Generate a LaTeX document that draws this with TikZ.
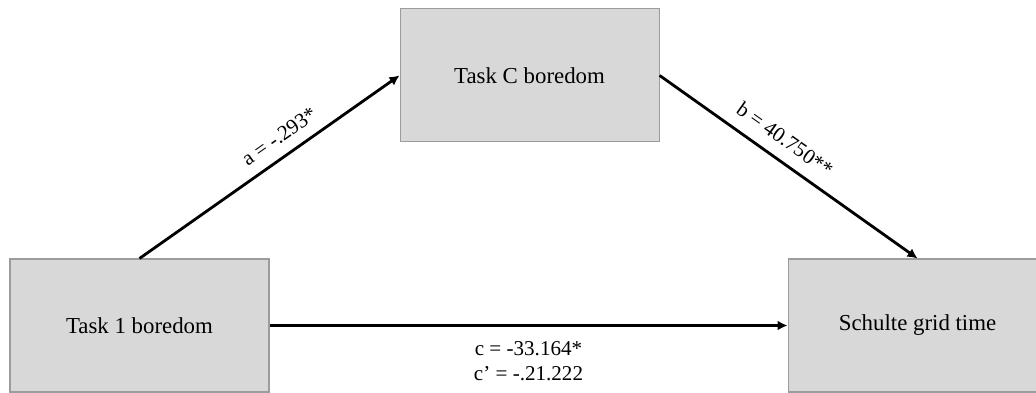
\documentclass[tikz,border=0pt]{standalone}
\usepackage{fontspec}
\setmainfont{Liberation Serif}
\usetikzlibrary{positioning,arrows.meta}
\definecolor{boxfill}{HTML}{D8D8D8}
\definecolor{boxline}{HTML}{9C9C9C}

\begin{document}
\begin{tikzpicture}[node distance = 2cm, auto,
	box/.style={draw=boxline, fill=boxfill, line width=0.6pt, minimum width=5.18cm, minimum height=2.66cm, font=\fontsize{13}{15}\selectfont},
	lbl/.style={font=\fontsize{12}{14.2}\selectfont},
	>={Latex[length=2mm,width=2mm]}]

	\useasboundingbox (-2.79,-1.33) rectangle (17.93,6.51);
	\clip (-2.79,-1.33) rectangle (17.93,6.51);

	\node (t1) [box] {Task 1 boredom};
	\node (tc) [box, above right=2.32cm and 2.6cm of t1] {Task C boredom};
	\node (sg) [box, right=10.36cm of t1] {Schulte grid time};

	\path[->, line width=1.6pt] (t1.north) edge node[lbl, sloped, pos=0.58, above=1mm] {a = -.293*} (tc.west);
	\path[->, line width=1.6pt] (tc.east) edge node[lbl, sloped, pos=0.44, above=1.2mm] {b = 40.750**} (sg.north);
	\path[->, line width=1.6pt] (t1) edge node[lbl, below=1.8mm, align=center] {c = -33.164*\\c' = -.21.222} (sg);

\end{tikzpicture}
\end{document}
